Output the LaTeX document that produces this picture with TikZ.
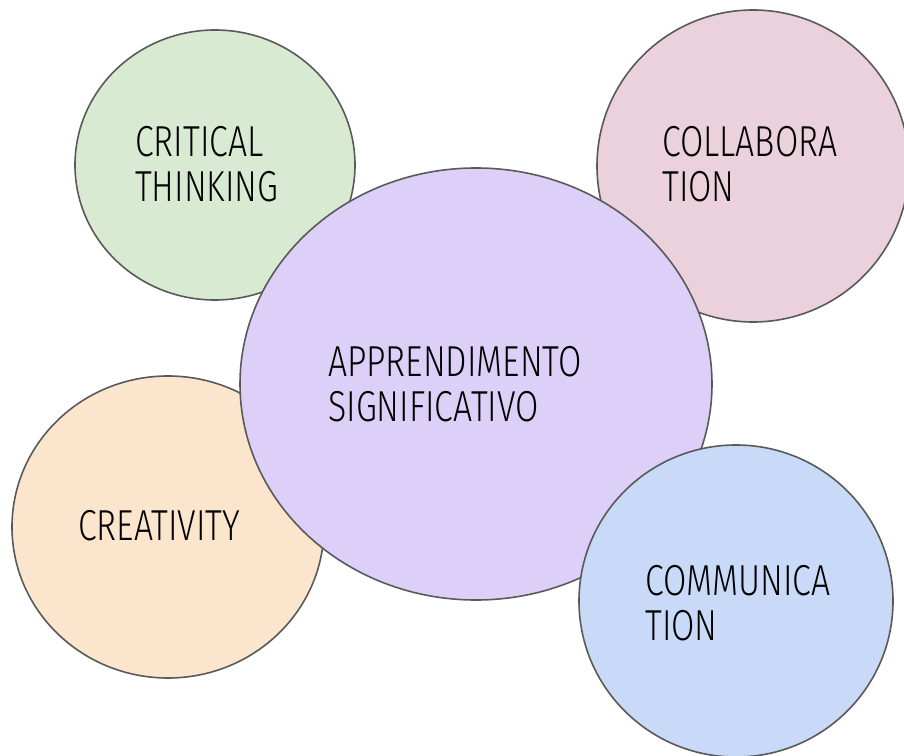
\documentclass[tikz,border=0pt]{standalone}
\usepackage{fontspec}
\setmainfont{Fira Sans}[UprightFont=* Light, FakeStretch=0.78]
\usepackage{xcolor}
\usepackage{tikz}

\definecolor{greenfill}{HTML}{D9EAD3}
\definecolor{pinkfill}{HTML}{EAD1DC}
\definecolor{purplefill}{HTML}{DCD0F8}
\definecolor{orangefill}{HTML}{FCE5CD}
\definecolor{bluefill}{HTML}{C9DAF8}
\definecolor{rimgray}{HTML}{595959}

\tikzset{
  bubble/.style={draw=rimgray, line width=1.2pt},
  caption/.style={anchor=base west, align=left, inner sep=0pt,
    font=\fontsize{32.5}{33.75}\selectfont}
}

\begin{document}
\begin{tikzpicture}[x=0.75pt, y=-0.75pt]
    \useasboundingbox (0,0) rectangle (904,756);

    % Draw the circles
    \draw[bubble, fill=greenfill] (215,165) ellipse (140 and 135);
    \draw[bubble, fill=pinkfill] (753,166) ellipse (156 and 156);
    \draw[bubble, fill=orangefill] (168,527) ellipse (156 and 151);
    \draw[bubble, fill=purplefill] (476,384) ellipse (236 and 216);
    \draw[bubble, fill=bluefill] (736,601) ellipse (157 and 156);

    % Labels inside the circles (base = last line)
    \node[caption] (thinking) at (135,202) {CRITICAL\\THINKING};
    \node[caption] (collab) at (662,202) {COLLABORA\\TION};
    \node[caption] (center) at (328,421) {APPRENDIMENTO\\SIGNIFICATIVO};
    \node[caption] (creative) at (78,540) {CREATIVITY};
    \node[caption] (communic) at (645,640) {COMMUNICA\\TION};
\end{tikzpicture}
\end{document}
